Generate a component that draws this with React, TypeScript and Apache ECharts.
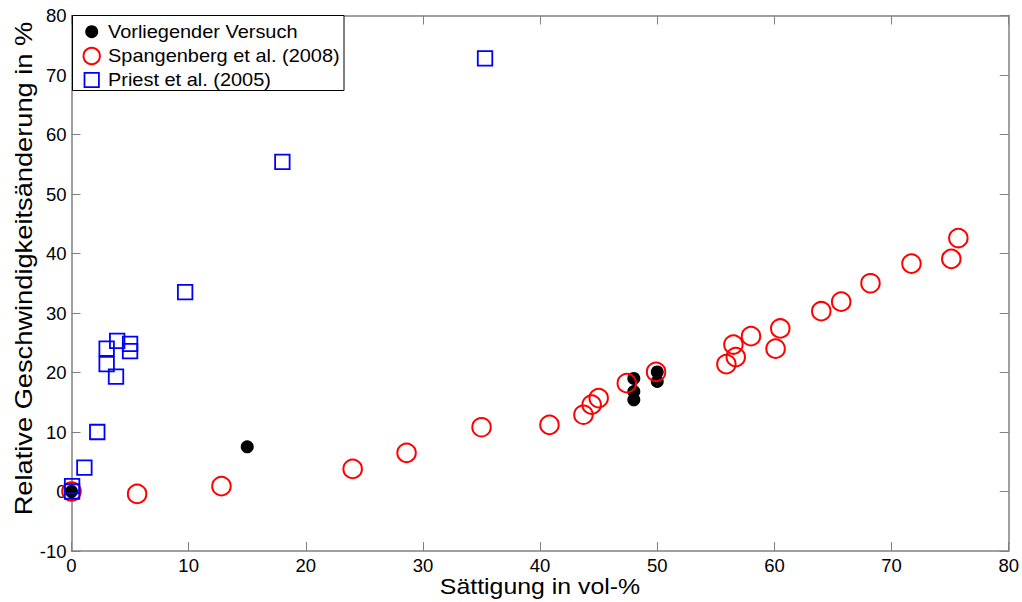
import React, { useEffect, useRef } from "react";
import * as echarts from "echarts";

const vorliegend: number[][] = [
  [0, 0],
  [15, 7.5],
  [48, 19.0],
  [48, 16.8],
  [48, 15.4],
  [50, 20.1],
  [50, 18.5],
];

const spangenberg: number[][] = [
  [0, 0],
  [5.6, -0.4],
  [12.8, 0.9],
  [24.0, 3.8],
  [28.6, 6.5],
  [35.0, 10.8],
  [40.8, 11.2],
  [43.7, 12.9],
  [44.4, 14.6],
  [45.0, 15.7],
  [47.4, 18.2],
  [49.9, 20.1],
  [55.9, 21.4],
  [56.7, 22.6],
  [56.5, 24.7],
  [58.0, 26.1],
  [60.1, 24.0],
  [60.5, 27.4],
  [64.0, 30.3],
  [65.7, 31.9],
  [68.2, 35.0],
  [71.7, 38.3],
  [75.1, 39.1],
  [75.7, 42.6],
];

const priest: number[][] = [
  [0.05, 0.9],
  [0.05, 0.0],
  [1.1, 4.0],
  [2.2, 10.0],
  [3.0, 24.0],
  [3.0, 21.4],
  [3.9, 25.3],
  [3.8, 19.3],
  [5.0, 24.8],
  [5.0, 23.6],
  [9.7, 33.5],
  [18.0, 55.4],
  [35.3, 72.8],
];

const seriesNames = [
  "Vorliegender Versuch",
  "Spangenberg et al. (2008)",
  "Priest et al. (2005)",
];
const xAxisTitle = "Sättigung in vol-%";
const yAxisTitle = "Relative Geschwindigkeitsänderung in %";

const FONT = "Liberation Sans, Arial, Helvetica, sans-serif";
const AX = "#808080";
const RED = "#ff0000";
const BLUE = "#0000ff";

export default function App() {
  const ref = useRef<HTMLDivElement>(null);
  useEffect(() => {
    document.body.style.margin = "0";
    if (!ref.current) return;
    const chart = echarts.init(ref.current, undefined, { renderer: "svg" });
    const axisCommon = {
      min: 0,
      interval: 10,
      axisLine: { show: true, onZero: false, lineStyle: { color: AX, width: 1.5 } },
      axisTick: { show: true, inside: true, length: 9, lineStyle: { color: AX, width: 1 } },
      splitLine: { show: false },
    };
    const legendX = 72.5;
    const legendY = 15.5;
    const rowY = [31.7, 56, 80];
    const markerX = 91.7;
    const textX = 108;
    const legendText = (i: number) => ({
      type: "text",
      x: textX,
      y: rowY[i],
      scaleX: 1.14,
      z: 102,
      style: {
        text: seriesNames[i],
        fontFamily: FONT,
        fontSize: 17.5,
        fill: "#000",
        align: "left",
        verticalAlign: "middle",
      },
    });
    chart.setOption({
      animation: false,
      backgroundColor: "#ffffff",
      textStyle: { fontFamily: FONT },
      grid: { left: 71.5, right: 11.5, top: 15.5, bottom: 51, containLabel: false },
      xAxis: [
        {
          ...axisCommon,
          type: "value",
          max: 80,
          position: "bottom",
          axisLabel: { show: true, fontFamily: FONT, fontSize: 18.5, color: "#000", margin: 5, showMinLabel: true, showMaxLabel: true },
        },
        {
          ...axisCommon,
          type: "value",
          max: 80,
          position: "top",
          axisLabel: { show: false },
        },
      ],
      yAxis: [
        {
          ...axisCommon,
          type: "value",
          min: -10,
          max: 80,
          position: "left",
          axisLabel: { show: true, fontFamily: FONT, fontSize: 18.5, color: "#000", margin: 5 },
        },
        {
          ...axisCommon,
          type: "value",
          min: -10,
          max: 80,
          position: "right",
          axisLabel: { show: false },
        },
      ],
      graphic: [
        {
          type: "text",
          x: 540,
          y: 587,
          scaleX: 1.13,
          style: {
            text: xAxisTitle,
            fontFamily: FONT,
            fontSize: 22,
            fill: "#000",
            align: "center",
            verticalAlign: "middle",
          },
        },
        {
          type: "text",
          x: 24,
          y: 268.5,
          rotation: Math.PI / 2,
          scaleX: 1.185,
          style: {
            text: yAxisTitle,
            fontFamily: FONT,
            fontSize: 23,
            fill: "#000",
            align: "center",
            verticalAlign: "middle",
          },
        },
        {
          type: "rect",
          z: 100,
          shape: { x: legendX, y: legendY, width: 344 - legendX, height: 90.5 - legendY },
          style: { fill: "#fff", stroke: "#000", lineWidth: 1 },
        },
        {
          type: "circle",
          z: 101,
          shape: { cx: markerX, cy: rowY[0], r: 6.5 },
          style: { fill: "#000" },
        },
        {
          type: "circle",
          z: 101,
          shape: { cx: markerX, cy: rowY[1], r: 8.2 },
          style: { fill: "none", stroke: RED, lineWidth: 2 },
        },
        {
          type: "rect",
          z: 101,
          shape: { x: markerX - 7.2, y: rowY[2] - 7.2, width: 14.4, height: 14.4 },
          style: { fill: "none", stroke: BLUE, lineWidth: 1.8 },
        },
        legendText(0),
        legendText(1),
        legendText(2),
      ],
      series: [
        {
          name: seriesNames[0],
          type: "scatter",
          data: vorliegend,
          symbol: "circle",
          symbolSize: 13,
          itemStyle: { color: "#000", opacity: 1 },
          z: 2,
        },
        {
          name: seriesNames[1],
          type: "scatter",
          data: spangenberg,
          symbol: "circle",
          symbolSize: 18.5,
          itemStyle: { color: "rgba(255,255,255,0)", borderColor: RED, borderWidth: 2, opacity: 1 },
          z: 3,
        },
        {
          name: seriesNames[2],
          type: "scatter",
          data: priest,
          symbol: "rect",
          symbolSize: 14.5,
          itemStyle: { color: "rgba(255,255,255,0)", borderColor: BLUE, borderWidth: 1.8, opacity: 1 },
          z: 4,
        },
      ],
    });
    return () => chart.dispose();
  }, []);
  return <div ref={ref} style={{ width: 1022, height: 602 }} />;
}
